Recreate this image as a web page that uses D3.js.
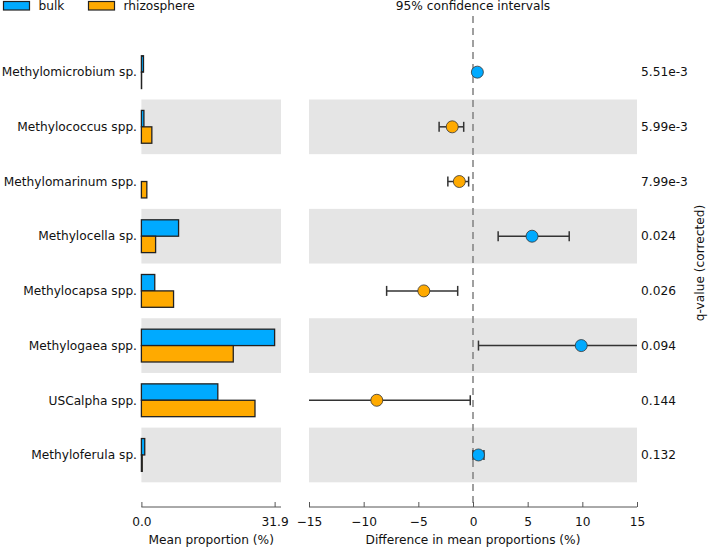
<!DOCTYPE html>
<html><head><meta charset="utf-8">
<script src="https://cdn.jsdelivr.net/npm/d3@7/dist/d3.min.js"></script>
<style>body{margin:0;background:#fff}svg{display:block;font-family:"DejaVu Sans",sans-serif}</style>
</head><body><svg id="c" width="708" height="548"></svg>
<script>
const categories = ["Methylomicrobium sp.","Methylococcus spp.","Methylomarinum spp.","Methylocella sp.","Methylocapsa spp.","Methylogaea spp.","USCalpha spp.","Methyloferula sp."];
const bulk = [0.5, 0.6, 0.0, 8.9, 3.2, 31.9, 18.3, 0.8];
const rhizo = [0.05, 2.5, 1.3, 3.4, 7.7, 22.0, 27.2, 0.2];
const diff = [0.4, -1.9, -1.25, 5.4, -4.5, 9.9, -8.8, 0.5];
const ciLow = [0.2, -3.1, -2.3, 2.3, -7.9, 0.5, -17.6, 0.0];
const ciHigh = [0.6, -0.85, -0.4, 8.8, -1.4, 19.3, -0.25, 1.0];
const qvals = ["5.51e-3","5.99e-3","7.99e-3","0.024","0.026","0.094","0.144","0.132"];
const leftTicks = [0, 31.9];
const rightTicks = [-15,-10,-5,0,5,10,15];
const groups = ["bulk","rhizosphere"];
const colors = ["#00aaff","#ffaa00"];

const svg = d3.select("#c");
const y = d3.scaleBand().domain(categories).range([44.8, 482.3]);
const xL = d3.scaleLinear().domain([0, 33.43]).range([141.4, 281]);
const xR = d3.scaleLinear().domain([-15, 15]).range([309, 637]);
const barH = y.bandwidth()*0.3;
const fontSize = 12.2;

// bands
categories.forEach((c,i)=>{
  if(i%2===1){
    svg.append("rect").attr("x",xL(0)).attr("y",y(c)).attr("width",xL.range()[1]-xL(0)).attr("height",y.bandwidth()).attr("fill","#e5e5e5");
    svg.append("rect").attr("x",xR(-15)).attr("y",y(c)).attr("width",xR(15)-xR(-15)).attr("height",y.bandwidth()).attr("fill","#e5e5e5");
  }
});

// category labels
svg.append("g").selectAll("text").data(categories).join("text")
  .attr("x",137).attr("y",d=>y(d)+y.bandwidth()/2).attr("dy","0.35em")
  .attr("text-anchor","end").attr("font-size",fontSize).attr("fill","#111").text(d=>d);

// bars
const barData = [];
categories.forEach((c,i)=>{
  barData.push({c, g:0, v:bulk[i]});
  barData.push({c, g:1, v:rhizo[i]});
});
svg.append("g").selectAll("rect").data(barData).join("rect")
  .attr("x",xL(0))
  .attr("y",d=>y(d.c)+y.bandwidth()/2 - barH + d.g*barH)
  .attr("width",d=>xL(d.v)-xL(0))
  .attr("height",barH)
  .attr("fill",d=>colors[d.g])
  .attr("stroke","#222").attr("stroke-width",1.3);

// dashed zero line
svg.append("line").attr("x1",xR(0)).attr("x2",xR(0)).attr("y1",16).attr("y2",507)
  .attr("stroke","#808080").attr("stroke-width",1.5).attr("stroke-dasharray","7,5");

// CI
svg.append("clipPath").attr("id","clipR").append("rect").attr("x",xR(-15)).attr("y",0).attr("width",xR(15)-xR(-15)).attr("height",548);
const gci = svg.append("g").attr("clip-path","url(#clipR)");
categories.forEach((c,i)=>{
  const cy = y(c)+y.bandwidth()/2;
  gci.append("line").attr("x1",xR(ciLow[i])).attr("x2",xR(ciHigh[i])).attr("y1",cy).attr("y2",cy).attr("stroke","#333").attr("stroke-width",1.5);
  [ciLow[i],ciHigh[i]].forEach(v=>{
    gci.append("line").attr("x1",xR(v)).attr("x2",xR(v)).attr("y1",cy-5).attr("y2",cy+5).attr("stroke","#333").attr("stroke-width",1.5);
  });
});
svg.append("g").selectAll("circle").data(categories).join("circle")
  .attr("cx",(d,i)=>xR(diff[i])).attr("cy",d=>y(d)+y.bandwidth()/2).attr("r",6)
  .attr("fill",(d,i)=>diff[i]>0?colors[0]:colors[1]).attr("stroke","#333").attr("stroke-width",0.8);

// q-values
svg.append("g").selectAll("text").data(categories).join("text")
  .attr("x",641).attr("y",d=>y(d)+y.bandwidth()/2).attr("dy","0.35em")
  .attr("font-size",fontSize).attr("fill","#111").text((d,i)=>qvals[i]);
svg.append("text").attr("transform","translate(700,263) rotate(-90)").attr("text-anchor","middle").attr("dy","0.35em")
  .attr("font-size",fontSize).attr("fill","#111").text("q-value (corrected)");

// axes
const axY = 507;
const axL = svg.append("g").attr("transform",`translate(0,${axY})`)
  .call(d3.axisBottom(xL).tickValues(leftTicks).tickSize(-5).tickPadding(10).tickFormat(d3.format(".1f")));
axL.select(".domain").attr("d",`M${xL(0)},0H${xL(33.43)}`);
const axR = svg.append("g").attr("transform",`translate(0,${axY})`)
  .call(d3.axisBottom(xR).tickValues(rightTicks).tickSize(-5).tickPadding(10).tickFormat(d=>d<0?"\u2212"+Math.abs(d):String(d)));
[axL,axR].forEach(a=>{
  a.select(".domain").attr("stroke","#555");
  a.selectAll(".tick line").attr("stroke","#555");
  a.selectAll("text").attr("font-size",fontSize).attr("font-family","DejaVu Sans").attr("fill","#111");
});
axR.select(".domain").attr("d",`M${xR(-15)},0H${xR(15)}`);

svg.append("text").attr("x",(xL(0)+xL(33.43))/2).attr("y",540).attr("dy","0.35em").attr("text-anchor","middle").attr("font-size",fontSize).attr("fill","#111").text("Mean proportion (%)");
svg.append("text").attr("x",xR(0)).attr("y",540).attr("dy","0.35em").attr("text-anchor","middle").attr("font-size",fontSize).attr("fill","#111").text("Difference in mean proportions (%)");
svg.append("text").attr("x",xR(0)).attr("y",6).attr("dy","0.35em").attr("text-anchor","middle").attr("font-size",fontSize).attr("fill","#111").text("95% confidence intervals");

// legend
const legX = [3.5, 88.5];
groups.forEach((g,i)=>{
  svg.append("rect").attr("x",legX[i]).attr("y",1.5).attr("width",26).attr("height",8.5).attr("fill",colors[i]).attr("stroke","#222").attr("stroke-width",1.2);
  svg.append("text").attr("x",legX[i]+35).attr("y",6).attr("dy","0.35em").attr("font-size",fontSize).attr("fill","#111").text(g);
});
</script></body></html>
